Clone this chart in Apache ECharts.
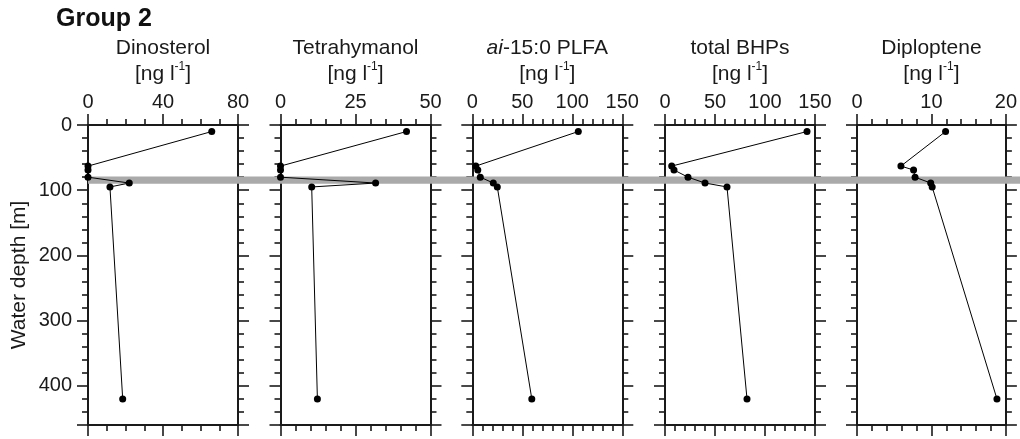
<!DOCTYPE html>
<html>
<head>
<meta charset="utf-8">
<script src="https://cdn.jsdelivr.net/npm/echarts@6/dist/echarts.min.js"></script>
<style>
  html, body { margin: 0; padding: 0; background: #fff; }
  #chart { width: 1020px; height: 439px; }
</style>
</head>
<body>
<div id="chart"></div>
<script>
// depth of each sample [m]
const depth = [10, 63, 69, 80, 89, 95, 420]
const dinosterol = [66, 0, 0, 0, 22, 11.7, 18.5]
const tetrahymanol = [42, 0, 0, 0, 31.7, 10.4, 12.3]
const plfa = [106, 3.5, 5.5, 8, 21, 25, 59.5]
const bhps = [142, 6.7, 9, 23, 40, 62, 82]
const diploptene = [11.9, 5.9, 7.6, 7.8, 9.9, 10.1, 18.8]
// grey band (depth range)
const band = [79, 90]
const depthMax = 460

const panels = [
  { name: 'Dinosterol', values: dinosterol, max: 80, interval: 40, minor: 4 },
  { name: 'Tetrahymanol', values: tetrahymanol, max: 50, interval: 25, minor: 5 },
  { name: '{it|ai}-15:0 PLFA', values: plfa, max: 150, interval: 50, minor: 5 },
  { name: 'total BHPs', values: bhps, max: 150, interval: 50, minor: 5 },
  { name: 'Diploptene', values: diploptene, max: 20, interval: 10, minor: 5 }
]

const ink = '#1a1a1a'
const font = 'Liberation Sans, Arial, sans-serif'
const lefts = [88, 280.5, 472.3, 665, 857]
const gridTop = 125
const gridH = 300
const gridW = 150

const chart = echarts.init(document.getElementById('chart'), null, { renderer: 'canvas' })

const grid = [{ left: 88, right: 0, top: gridTop, height: gridH }]
const xAxis = [{ gridIndex: 0, type: 'value', show: false, min: 0, max: 1 }]
const yAxis = [{ gridIndex: 0, type: 'value', show: false, inverse: true, min: 0, max: depthMax }]
const series = [{
  type: 'line',
  xAxisIndex: 0,
  yAxisIndex: 0,
  data: [],
  silent: true,
  z: 0,
  markArea: {
    silent: true,
    itemStyle: { color: '#aaaaaa' },
    data: [[{ yAxis: band[0] }, { yAxis: band[1] }]]
  }
}]

const tick = (len) => ({ show: true, inside: false, length: len, lineStyle: { color: ink, width: 1.6 } })
const minorTick = (n) => ({ show: true, splitNumber: n, length: 6, lineStyle: { color: ink, width: 1.6 } })
const line = { show: true, onZero: false, lineStyle: { color: ink, width: 2 } }

panels.forEach(function (p, i) {
  const g = i + 1
  grid.push({ left: lefts[i], width: gridW, top: gridTop, height: gridH })
  const xBase = {
    gridIndex: g,
    type: 'value',
    min: 0,
    max: p.max,
    interval: p.interval,
    axisLine: line,
    axisTick: tick(11),
    minorTick: minorTick(p.minor),
    splitLine: { show: false }
  }
  xAxis.push(Object.assign({}, xBase, {
    position: 'top',
    name: p.name + '\n[ng l{sup|-1}]',
    nameLocation: 'middle',
    nameGap: 32,
    nameTextStyle: {
      color: ink,
      fontFamily: font,
      fontSize: 21,
      lineHeight: 26,
      rich: {
        it: { fontStyle: 'italic', fontSize: 21, fontFamily: font, color: ink },
        sup: { fontSize: 12, fontFamily: font, color: ink, verticalAlign: 'top', lineHeight: 21 }
      }
    },
    axisLabel: { color: ink, fontFamily: font, fontSize: 20, margin: 13 }
  }))
  xAxis.push(Object.assign({}, xBase, {
    position: 'bottom',
    axisLabel: { show: false }
  }))
  const yBase = {
    gridIndex: g,
    type: 'value',
    inverse: true,
    min: 0,
    max: depthMax,
    interval: 100,
    axisLine: line,
    axisTick: tick(11),
    minorTick: minorTick(5),
    splitLine: { show: false }
  }
  const left = Object.assign({}, yBase, {
    position: 'left',
    axisLabel: { show: i === 0, showMaxLabel: false, color: ink, fontFamily: font, fontSize: 20, margin: 16 }
  })
  if (i === 0) {
    left.name = 'Water depth [m]'
    left.nameLocation = 'middle'
    left.nameGap = 58
    left.nameTextStyle = { color: ink, fontFamily: font, fontSize: 21 }
  }
  yAxis.push(left)
  yAxis.push(Object.assign({}, yBase, {
    position: 'right',
    axisLabel: { show: false }
  }))
  series.push({
    type: 'line',
    xAxisIndex: 2 * i + 1,
    yAxisIndex: 2 * i + 1,
    data: p.values.map(function (v, k) { return [v, depth[k]] }),
    symbol: 'circle',
    symbolSize: 7,
    itemStyle: { color: '#000' },
    lineStyle: { color: '#000', width: 1 },
    z: 5
  })
})

const option = {
  animation: false,
  backgroundColor: '#fff',
  title: {
    text: 'Group 2',
    left: 51,
    top: 2,
    textStyle: { fontFamily: font, fontSize: 25, fontWeight: 'bold', color: '#111' }
  },
  grid: grid,
  xAxis: xAxis,
  yAxis: yAxis,
  series: series
}

chart.setOption(option)
</script>
</body>
</html>
